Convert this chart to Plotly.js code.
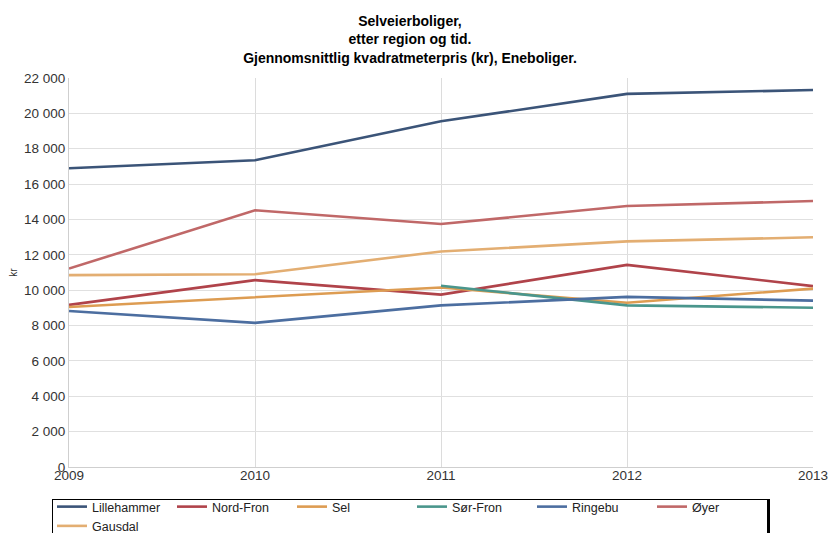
<!DOCTYPE html>
<html>
<head>
<meta charset="utf-8">
<script src="https://cdn.plot.ly/plotly-3.0.1.min.js"></script>
<style>
html,body{margin:0;padding:0;background:#fff;overflow:hidden;}
#wrap{position:relative;width:829px;height:533px;overflow:hidden;}
#legbox{position:absolute;left:52px;top:499px;width:714px;height:60px;border:1px solid #000;border-right:3px solid #000;background:#fff;}
#chart{position:absolute;left:0;top:0;width:829px;height:533px;}
</style>
</head>
<body>
<div id="wrap">
<div id="legbox"></div>
<div id="chart"></div>
</div>
<script>
const years = [2009, 2010, 2011, 2012, 2013];
const lillehammer = [16900, 17350, 19550, 21100, 21320];
const nordFron = [9170, 10570, 9750, 11430, 10230];
const sel = [9050, 9580, 10150, 9290, 10090];
const sorFron = [null, null, 10250, 9140, 9010];
const ringebu = [8820, 8150, 9140, 9620, 9410];
const oyer = [11220, 14520, 13740, 14760, 15040];
const gausdal = [10850, 10900, 12190, 12760, 12990];

const names = ['Lillehammer', 'Nord-Fron', 'Sel', 'Sør-Fron', 'Ringebu', 'Øyer', 'Gausdal'];
const series = [lillehammer, nordFron, sel, sorFron, ringebu, oyer, gausdal];
const colors = ['#3b5478', '#b0434a', '#dd9c52', '#4a968c', '#4c6ea0', '#c06868', '#e3ae72'];

const traces = series.map((s, i) => ({
  x: years, y: s, name: names[i], type: 'scatter', mode: 'lines',
  line: {color: colors[i], width: 2.6}, connectgaps: false
}));

const layout = {
  width: 829, height: 533,
  margin: {l: 69, r: 16, t: 78, b: 66, autoexpand: false},
  paper_bgcolor: 'rgba(0,0,0,0)', plot_bgcolor: '#fff',
  separators: ', ',
  font: {family: 'Liberation Sans, Arial, sans-serif', size: 13, color: '#333'},
  title: {
    text: '<b>Selveierboliger,<br>etter region og tid.<br>Gjennomsnittlig kvadratmeterpris (kr), Eneboliger.</b>',
    font: {family: 'Liberation Sans, Arial, sans-serif', size: 14, color: '#000'},
    xref: 'container', x: 410 / 829, xanchor: 'center', y: 0.951, yanchor: 'top'
  },
  xaxis: {
    range: [2009, 2013], tickvals: years, ticktext: years.map(String),
    showgrid: true, gridcolor: '#dcdcdc', zeroline: false,
    showline: true, linecolor: '#cfcfcf', ticks: '',
    ticklabelstandoff: -4,
    tickfont: {size: 13.5, color: '#333'}
  },
  yaxis: {
    range: [0, 22000], dtick: 2000, tickformat: ',d',
    showgrid: true, gridcolor: '#e0e0e0', zeroline: false,
    showline: true, linecolor: '#cfcfcf', ticks: '',
    tickfont: {size: 13.5, color: '#333'},
    title: {text: 'kr', font: {size: 10, color: '#333'}, standoff: 4}
  },
  showlegend: true,
  legend: {
    orientation: 'h', xref: 'container', yref: 'container',
    x: 52 / 829, xanchor: 'left', y: 41 / 533, yanchor: 'top',
    bgcolor: 'rgba(0,0,0,0)', borderwidth: 0,
    entrywidth: 75, entrywidthmode: 'pixels', itemwidth: 30,
    font: {size: 12.5, color: '#222'}, traceorder: 'normal',
    tracegroupgap: 0
  }
};

Plotly.newPlot('chart', traces, layout, {displayModeBar: false, staticPlot: true});
</script>
</body>
</html>
